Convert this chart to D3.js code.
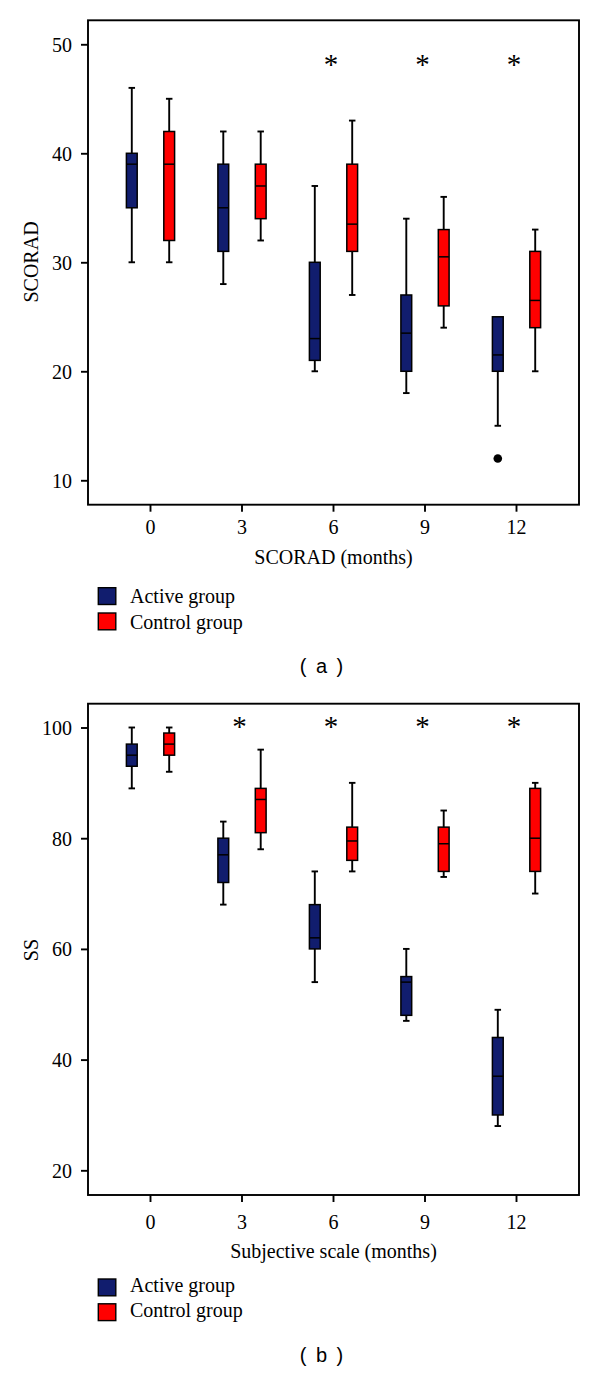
<!DOCTYPE html>
<html>
<head>
<meta charset="utf-8">
<script src="https://cdn.jsdelivr.net/npm/d3@7/dist/d3.min.js"></script>
<style>
  html, body { margin: 0; padding: 0; background: #fff; }
  svg { display: block; }
</style>
</head>
<body>
<svg id="chart" width="600" height="1373"></svg>
<script>
// ---------- DATA ----------
const months = ["0", "3", "6", "9", "12"];
const groups = ["Active group", "Control group"];
const groupColors = ["#111d6e", "#ff0000"];

// [min, q1, median, q3, max] per month
const scoradActive  = [[30, 35, 39, 40, 46], [28, 31, 35, 39, 42], [20, 21, 23, 30, 37], [18, 20, 23.5, 27, 34], [15, 20, 21.5, 25, 25]];
const scoradControl = [[30, 32, 39, 42, 45], [32, 34, 37, 39, 42], [27, 31, 33.5, 39, 43], [24, 26, 30.5, 33, 36], [20, 24, 26.5, 31, 33]];
const scoradOutliers = [{ month: "12", group: 0, value: 12 }];
const scoradSignificant = ["6", "9", "12"];
const scoradTicks = [10, 20, 30, 40, 50];

const ssActive  = [[89, 93, 95, 97, 100], [68, 72, 77, 80, 83], [54, 60, 62, 68, 74], [47, 48, 54, 55, 60], [28, 30, 37, 44, 49]];
const ssControl = [[92, 95, 97, 99, 100], [78, 81, 87, 89, 96], [74, 76, 79.5, 82, 90], [73, 74, 79, 82, 85], [70, 74, 80, 89, 90]];
const ssOutliers = [];
const ssSignificant = ["3", "6", "9", "12"];
const ssTicks = [20, 40, 60, 80, 100];

// ---------- LAYOUT ----------
const svg = d3.select("#chart");
const serif = "'Liberation Serif', 'Times New Roman', serif";
const sans = "'Liberation Sans', Arial, sans-serif";
const fs = 20;

const panels = [
  {
    active: scoradActive, control: scoradControl, outliers: scoradOutliers,
    sig: scoradSignificant, sigLevel: 48.5, ticks: scoradTicks,
    domain: [7.76, 52.2], top: 20.3, bottom: 504.7,
    yLabel: "SCORAD", yLabelY: 262,
    xLabel: "SCORAD (months)", xTickBase: 534, xLabelBase: 564,
    legendTop: 587.7, legendText: 603.3, legendStep: 25.3,
    tag: "( a )", tagBase: 673.3
  },
  {
    active: ssActive, control: ssControl, outliers: ssOutliers,
    sig: ssSignificant, sigLevel: 100.8, ticks: ssTicks,
    domain: [15.54, 104.3], top: 703.7, bottom: 1195,
    yLabel: "SS", yLabelY: 950,
    xLabel: "Subjective scale (months)", xTickBase: 1229, xLabelBase: 1258.3,
    legendTop: 1279, legendText: 1292.3, legendStep: 24.8,
    tag: "( b )", tagBase: 1361.7
  }
];

const left = 88, right = 579;
const x = d3.scaleBand().domain(months).range([left, right]).paddingInner(0).paddingOuter(0.183);
const xg = d3.scaleBand().domain([0, 1]).range([0, x.bandwidth()]).paddingInner(0).paddingOuter(0.223);
const boxW = 10.8, capW = 6.5, lw = 1.9;

panels.forEach(p => {
  const y = d3.scaleLinear().domain(p.domain).range([p.bottom, p.top]);
  const g = svg.append("g");

  // Y axis
  const yAxis = d3.axisLeft(y).tickValues(p.ticks).tickSize(7).tickPadding(9).tickFormat(d3.format("d"));
  const ya = g.append("g").attr("transform", `translate(${left},0)`).call(yAxis);
  ya.select(".domain").remove();
  ya.selectAll("line").attr("stroke", "#000").attr("stroke-width", 1.9);
  ya.selectAll("text").attr("font-family", serif).attr("font-size", fs).attr("fill", "#000").attr("dy", "0.34em");

  // X axis
  const xAxis = d3.axisBottom(x).tickSize(7).tickPadding(0);
  const xa = g.append("g").attr("transform", `translate(0,${p.bottom})`).call(xAxis);
  xa.select(".domain").remove();
  xa.selectAll("line").attr("stroke", "#000").attr("stroke-width", 1.9);
  xa.selectAll("text").attr("font-family", serif).attr("font-size", fs).attr("fill", "#000")
    .attr("dy", null).attr("y", p.xTickBase - p.bottom);

  // Frame
  g.append("rect").attr("x", left).attr("y", p.top).attr("width", right - left).attr("height", p.bottom - p.top)
    .attr("fill", "none").attr("stroke", "#000").attr("stroke-width", 1.9);

  // Boxes
  const series = [p.active, p.control];
  series.forEach((vals, gi) => {
    vals.forEach((v, mi) => {
      const [mn, q1, md, q3, mx] = v;
      const cx = x(months[mi]) + xg(gi) + xg.bandwidth() / 2;
      const bg = g.append("g");
      if (mx > q3) {
        bg.append("line").attr("x1", cx).attr("x2", cx).attr("y1", y(mx)).attr("y2", y(q3)).attr("stroke", "#000").attr("stroke-width", lw);
        bg.append("line").attr("x1", cx - capW / 2).attr("x2", cx + capW / 2).attr("y1", y(mx)).attr("y2", y(mx)).attr("stroke", "#000").attr("stroke-width", lw);
      }
      if (mn < q1) {
        bg.append("line").attr("x1", cx).attr("x2", cx).attr("y1", y(q1)).attr("y2", y(mn)).attr("stroke", "#000").attr("stroke-width", lw);
        bg.append("line").attr("x1", cx - capW / 2).attr("x2", cx + capW / 2).attr("y1", y(mn)).attr("y2", y(mn)).attr("stroke", "#000").attr("stroke-width", lw);
      }
      bg.append("rect").attr("x", cx - boxW / 2).attr("width", boxW)
        .attr("y", y(q3)).attr("height", y(q1) - y(q3))
        .attr("fill", groupColors[gi]).attr("stroke", "#000").attr("stroke-width", 1.5);
      bg.append("line").attr("x1", cx - boxW / 2).attr("x2", cx + boxW / 2).attr("y1", y(md)).attr("y2", y(md))
        .attr("stroke", "#000").attr("stroke-width", 1.5);
    });
  });

  // Outliers
  g.selectAll("circle.out").data(p.outliers).enter().append("circle")
    .attr("cx", d => x(d.month) + xg(d.group) + xg.bandwidth() / 2)
    .attr("cy", d => y(d.value)).attr("r", 4.3).attr("fill", "#000");

  // Significance asterisks
  g.selectAll("text.sig").data(p.sig).enter().append("text")
    .attr("x", d => x(d) + x.bandwidth() / 2 - 2.5)
    .attr("y", y(p.sigLevel) + 13)
    .attr("text-anchor", "middle").attr("font-family", serif).attr("font-size", 29).attr("fill", "#000")
    .text("*");

  // Axis titles
  g.append("text").attr("transform", `translate(38,${p.yLabelY}) rotate(-90)`)
    .attr("text-anchor", "middle").attr("font-family", serif).attr("font-size", fs).attr("fill", "#000").text(p.yLabel);
  g.append("text").attr("x", (left + right) / 2).attr("y", p.xLabelBase)
    .attr("text-anchor", "middle").attr("font-family", serif).attr("font-size", fs).attr("fill", "#000").text(p.xLabel);

  // Legend
  groups.forEach((name, gi) => {
    g.append("rect").attr("x", 98.3).attr("y", p.legendTop + gi * p.legendStep).attr("width", 17.5).attr("height", 16.8)
      .attr("fill", groupColors[gi]).attr("stroke", "#000").attr("stroke-width", 1.4);
    g.append("text").attr("x", 130).attr("y", p.legendText + gi * p.legendStep)
      .attr("font-family", serif).attr("font-size", fs).attr("fill", "#000").text(name);
  });

  // Panel tag
  g.append("text").attr("x", 322.5).attr("y", p.tagBase).attr("text-anchor", "middle")
    .attr("font-family", sans).attr("font-size", 20).attr("letter-spacing", 2).attr("fill", "#000")
    .attr("xml:space", "preserve").text(p.tag);
});
</script>
</body>
</html>
